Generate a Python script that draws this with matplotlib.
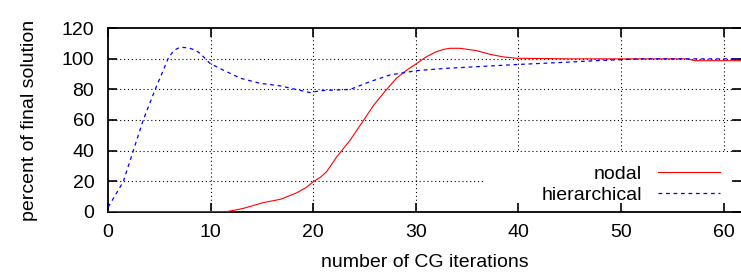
import matplotlib.pyplot as plt
from matplotlib.patches import Rectangle

plt.rcParams['font.family'] = ['Liberation Sans', 'DejaVu Sans']

# nodal basis (red, solid)
nodal_x = [0, 11.5, 12.3, 13.2, 15.1, 16.8, 18.4, 19.3, 20.0, 20.7, 21.3, 22.3,
           23.6, 24.8, 25.9, 27.0, 28.1, 29.1, 30.1, 31.0, 32.0, 32.7, 33.3,
           34.3, 35.9, 37.2, 38.5, 39.8, 45, 50, 56.4, 57.2, 62]
nodal_y = [0, 0, 0.9, 2.2, 5.9, 8.1, 12.4, 15.8, 19.6, 22.6, 26.2, 36.0,
           46.9, 58.8, 69.8, 78.8, 87.3, 92.6, 97.1, 101.3, 104.7, 106.2, 106.9,
           106.9, 105.4, 103.0, 101.3, 100.4, 100, 100, 100, 98.8, 98.8]

# hierarchical basis (blue, dashed)
hier_x = [0, 1.47, 3.42, 4.56, 5.86, 6.4, 7.0, 7.8, 8.47, 8.96, 9.93, 11.2,
          12.9, 14.8, 16.8, 18.1, 19.7, 20.7, 22.0, 23.6, 25.5, 27.5, 30.1,
          33.0, 36.3, 40.2, 44.4, 47.6, 51.9, 62]
hier_y = [3, 19.6, 60, 79.6, 100.4, 105.5, 107.6, 107.2, 105.8, 103.6, 97,
          92.7, 87.3, 84, 82.3, 80.3, 77.9, 79.2, 79.6, 80, 85, 89.5, 92.3,
          93.8, 95, 96.4, 97.7, 98.8, 100, 100]

xticks = [0, 10, 20, 30, 40, 50, 60]
yticks = [0, 20, 40, 60, 80, 100, 120]

fig = plt.figure(figsize=(7.41, 2.8), dpi=100)
ax = fig.add_axes([0.146, 0.244, 0.854, 0.655])

# grid drawn by hand so the key box can hide part of it
for xv in xticks[1:]:
    ax.axvline(xv, color='black', lw=0.8, ls=(0, (1, 2.5)), zorder=0.5)
for yv in yticks[1:-1]:
    ax.axhline(yv, color='black', lw=0.8, ls=(0, (1, 2.5)), zorder=0.5)
ax.add_patch(Rectangle((0.595, 0.0), 0.395, 0.325, transform=ax.transAxes,
                       facecolor='white', edgecolor='none', zorder=0.9))

ax.plot(nodal_x, nodal_y, color='#ff0000', lw=0.8, label='nodal', zorder=3)
ax.plot(hier_x, hier_y, color='#0000ff', lw=0.9, ls=(0, (3, 3)),
        label='hierarchical', zorder=3)

ax.set_xlim(0, 61.7)
ax.set_ylim(0, 120)
ax.set_xticks(xticks)
ax.set_yticks(yticks)
ax.tick_params(direction='in', length=6.5, width=1.2, labelsize=14,
               top=True, right=True)
ax.tick_params(axis='y', pad=10)
ax.tick_params(axis='x', pad=9)
for side in ['left', 'bottom', 'top']:
    ax.spines[side].set_linewidth(1.3)
ax.spines['right'].set_visible(False)

ax.set_xlabel('number of CG iterations', fontsize=14, labelpad=9)
ax.set_ylabel('percent of final solution', fontsize=14, labelpad=17)

leg = ax.legend(loc='lower right', bbox_to_anchor=(0.985, -0.02), frameon=False,
                markerfirst=False, fontsize=14, handlelength=3.2,
                handletextpad=0.8, labelspacing=0.15, borderaxespad=0.2)
for t in leg.get_texts():
    t.set_ha('right')
leg._legend_box.align = 'right'

fig.savefig('out.png', dpi=100)
